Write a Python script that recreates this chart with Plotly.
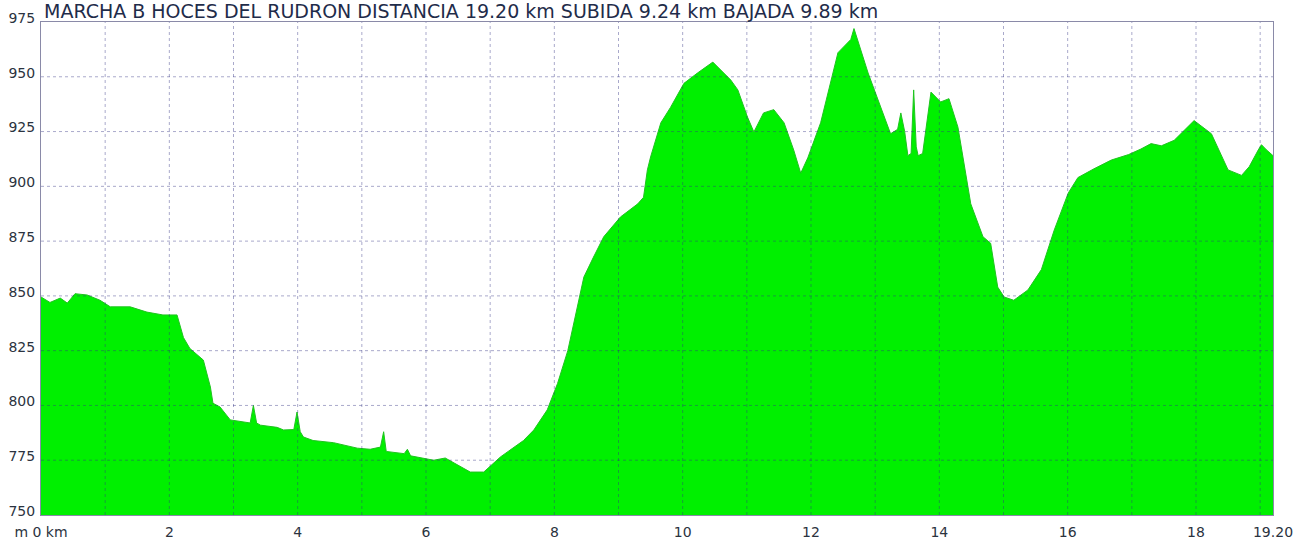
import plotly.graph_objects as go

# Distance along the route (km) and elevation (m)
distance_km = [
    0.00, 0.14, 0.30, 0.41, 0.53, 0.72, 0.92, 1.08, 1.39, 1.65, 1.90, 2.12,
    2.22, 2.32, 2.53, 2.64, 2.68, 2.79, 2.95, 3.21, 3.26, 3.31, 3.36, 3.42,
    3.68, 3.78, 3.94, 3.99, 4.04, 4.09, 4.24, 4.56, 4.93, 5.13, 5.29, 5.34,
    5.38, 5.66, 5.71, 5.76, 6.12, 6.30, 6.54, 6.69, 6.90, 7.16, 7.52, 7.68,
    7.89, 8.05, 8.21, 8.36, 8.46, 8.61, 8.77, 9.03, 9.30, 9.39, 9.45, 9.50,
    9.66, 9.81, 10.02, 10.23, 10.47, 10.75, 10.86, 11.01, 11.11, 11.26, 11.42,
    11.58, 11.73, 11.84, 11.95, 12.15, 12.42, 12.62, 12.67, 12.89, 13.09,
    13.24, 13.35, 13.40, 13.46, 13.51, 13.56, 13.60, 13.64, 13.67, 13.74,
    13.87, 14.02, 14.15, 14.29, 14.49, 14.68, 14.80, 14.91, 15.01, 15.16,
    15.38, 15.59, 15.79, 16.01, 16.16, 16.41, 16.68, 16.95, 17.14, 17.30,
    17.46, 17.66, 17.97, 18.24, 18.50, 18.71, 18.83, 18.97, 19.02, 19.10, 19.20,
]
elevation_m = [
    849.5, 847.0, 849.0, 846.7, 851.0, 850.4, 848.0, 845.0, 845.0, 842.6, 841.3, 841.3,
    831.0, 826.0, 820.7, 808.4, 801.0, 799.3, 793.4, 792.0, 792.0, 800.0, 792.0, 791.0,
    790.0, 788.8, 789.0, 797.0, 788.0, 785.6, 784.0, 783.0, 780.5, 780.0, 781.0, 788.0,
    779.0, 778.0, 780.0, 777.0, 775.0, 776.0, 772.0, 769.6, 769.6, 776.5, 784.0, 788.8,
    798.0, 810.0, 825.0, 845.0, 858.6, 867.7, 877.0, 886.0, 892.0, 895.0, 907.5, 913.4,
    929.0, 936.0, 947.0, 951.7, 956.7, 948.5, 944.0, 931.6, 924.8, 933.5, 935.0,
    929.0, 916.6, 906.0, 913.0, 929.0, 961.0, 967.0, 972.0, 951.7, 936.0,
    924.0, 926.0, 933.5, 925.0, 914.0, 915.0, 944.0, 918.0, 914.0, 915.0,
    943.0, 938.5, 940.0, 927.0, 892.0, 877.0, 874.0, 854.0, 849.5, 848.0,
    852.7, 862.0, 880.0, 897.0, 904.0, 908.0, 912.0, 914.5, 917.0, 919.5,
    918.5, 921.0, 930.0, 924.0, 907.5, 905.0, 909.0, 916.6, 919.0, 916.6, 914.0,
]

x_tick_values = [0, 2, 4, 6, 8, 10, 12, 14, 16, 18, 19.2]
x_tick_labels = ["m 0 km", "2", "4", "6", "8", "10", "12", "14", "16", "18", "19.20"]
x_grid_values = list(range(1, 20))
y_tick_values = [750, 775, 800, 825, 850, 875, 900, 925, 950, 975]
title_text = "MARCHA B HOCES DEL RUDRON DISTANCIA 19.20 km SUBIDA 9.24 km BAJADA 9.89 km"

fig = go.Figure()
fig.add_trace(go.Scatter(
    x=distance_km, y=elevation_m, mode="lines",
    fill="tozeroy", fillcolor="#00f000",
    line=dict(color="#1fc41f", width=1),
    hoverinfo="x+y", showlegend=False,
))

grid_color = "rgba(50,50,130,0.42)"
grid_line = dict(color=grid_color, width=1, dash="dot")
shapes = []
for gx in x_grid_values:
    shapes.append(dict(type="line", xref="x", yref="paper", x0=gx, x1=gx, y0=0, y1=1,
                       line=grid_line, layer="above"))
for gy in y_tick_values[1:-1]:
    shapes.append(dict(type="line", xref="paper", yref="y", x0=0, x1=1, y0=gy, y1=gy,
                       line=grid_line, layer="above"))

font_family = "DejaVu Sans, Arial, sans-serif"
label_color = "#2b3340"

fig.update_layout(
    width=1311, height=540,
    margin=dict(l=41, r=38, t=22, b=25, autoexpand=False),
    paper_bgcolor="white", plot_bgcolor="white",
    font=dict(family=font_family, size=14, color=label_color),
    xaxis=dict(
        range=[0, 19.2], tickvals=x_tick_values, ticktext=x_tick_labels,
        showgrid=False, automargin=False,
        showline=True, linecolor="#8a8aa8", linewidth=1, mirror=True,
        ticks="", zeroline=False, ticklabelstandoff=4,
        tickfont=dict(size=14, color=label_color),
    ),
    yaxis=dict(
        range=[750, 975], tickvals=y_tick_values,
        showgrid=False, automargin=False,
        showline=True, linecolor="#8a8aa8", linewidth=1, mirror=True,
        ticks="", zeroline=False, ticklabelstandoff=2, ticklabelshift=-4,
        tickfont=dict(size=14, color=label_color),
    ),
    shapes=shapes,
    annotations=[dict(
        text=title_text, xref="paper", yref="paper", x=0, y=1,
        xanchor="left", yanchor="bottom", xshift=1, yshift=-2, showarrow=False,
        font=dict(family=font_family, size=19, color="#1f2c4a"),
    )],
)

fig.write_html("out.html", config={"displayModeBar": False},
               post_script="document.body.style.margin='0px';")
